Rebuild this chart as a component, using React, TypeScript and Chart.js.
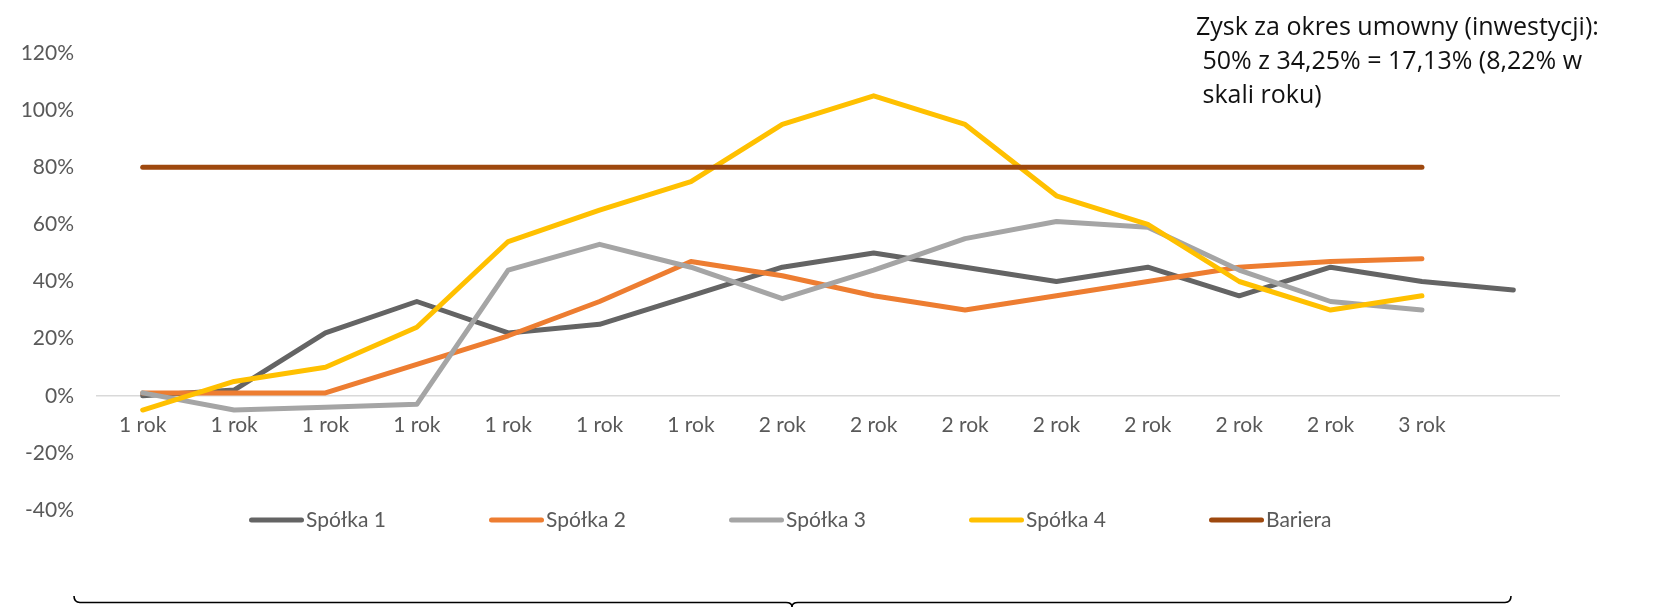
import React, { useEffect, useRef } from 'react';
import { Chart, registerables } from 'chart.js';

Chart.register(...registerables);

const categories = ['1 rok', '1 rok', '1 rok', '1 rok', '1 rok', '1 rok', '1 rok', '2 rok', '2 rok', '2 rok', '2 rok', '2 rok', '2 rok', '2 rok', '3 rok', ''];
const spolka1 = [0, 2, 22, 33, 22, 25, 35, 45, 50, 45, 40, 45, 35, 45, 40, 37];
const spolka2 = [1, 1, 1, 11, 21, 33, 47, 42, 35, 30, 35, 40, 45, 47, 48, null];
const spolka3 = [1, -5, -4, -3, 44, 53, 45, 34, 44, 55, 61, 59, 44, 33, 30, null];
const spolka4 = [-5, 5, 10, 24, 54, 65, 75, 95, 105, 95, 70, 60, 40, 30, 35, null];
const bariera = [80, 80, 80, 80, 80, 80, 80, 80, 80, 80, 80, 80, 80, 80, 80, null];

const seriesNames = ['Spółka 1', 'Spółka 2', 'Spółka 3', 'Spółka 4', 'Bariera'];
const seriesColors = ['#646464', '#ED7D31', '#A5A5A5', '#FFC000', '#9E480E'];
const seriesData = [spolka1, spolka2, spolka3, spolka4, bariera];

const yMin = -40;
const yMax = 120;
const yStep = 20;

const noteLines = [
  'Zysk za okres umowny (inwestycji):',
  ' 50% z 34,25% = 17,13% (8,22% w',
  ' skali roku)',
];

const FONT_FAMILY = 'Lato, "Open Sans", sans-serif';
const NOTE_FONT = '"Open Sans", Lato, sans-serif';
const TEXT_GRAY = '#595959';

const legendPlugin = {
  id: 'customLegend',
  afterDraw(chart: any) {
    const ctx = chart.ctx;
    const area = chart.chartArea;
    const y = area.bottom + 10;
    chart.data.datasets.forEach((ds: any, i: number) => {
      const x = area.left + 152 + i * 240;
      ctx.save();
      ctx.strokeStyle = ds.borderColor;
      ctx.lineWidth = 5;
      ctx.lineCap = 'round';
      ctx.beginPath();
      ctx.moveTo(x + 2.5, y);
      ctx.lineTo(x + 52.5, y);
      ctx.stroke();
      ctx.fillStyle = TEXT_GRAY;
      ctx.font = `21px ${FONT_FAMILY}`;
      ctx.textBaseline = 'middle';
      ctx.textAlign = 'left';
      ctx.fillText(ds.label, x + 57, y);
      ctx.restore();
    });
  },
};

export default function App() {
  const canvasRef = useRef<HTMLCanvasElement | null>(null);

  useEffect(() => {
    if (!canvasRef.current) return;
    const orders = [5, 4, 3, 2, 1];
    const chart = new Chart(canvasRef.current, {
      type: 'line',
      data: {
        labels: categories,
        datasets: seriesData.map((d, i) => ({
          label: seriesNames[i],
          data: d,
          borderColor: seriesColors[i],
          backgroundColor: seriesColors[i],
          borderWidth: 5,
          pointRadius: 0,
          pointHoverRadius: 0,
          borderCapStyle: 'round',
          borderJoinStyle: 'round',
          tension: 0,
          fill: false,
          order: orders[i],
        })),
      },
      options: {
        responsive: false,
        animation: false,
        devicePixelRatio: 1,
        events: [],
        layout: { padding: { left: 0, right: 93, top: 45, bottom: 97 } },
        plugins: {
          legend: { display: false },
          tooltip: { enabled: false },
        },
        scales: {
          x: {
            type: 'category',
            position: { y: 0 },
            offset: true,
            grid: { display: false, drawTicks: false },
            border: { display: true, color: '#D9D9D9', width: 1.5 },
            ticks: {
              color: TEXT_GRAY,
              font: { family: FONT_FAMILY, size: 21 },
              padding: 17,
              maxRotation: 0,
              autoSkip: false,
            },
          },
          y: {
            min: yMin,
            max: yMax,
            grid: { display: false, drawTicks: false },
            border: { display: false },
            ticks: {
              stepSize: yStep,
              color: TEXT_GRAY,
              font: { family: FONT_FAMILY, size: 21 },
              padding: 23,
              callback: (v: any) => `${v}%`,
            },
            afterFit: (s: any) => {
              s.width = 89;
            },
          },
        },
      },
      plugins: [legendPlugin],
    } as any);
    return () => chart.destroy();
  }, []);

  return (
    <div style={{ position: 'relative', width: 1644, height: 599 }}>
      <canvas ref={canvasRef} width={1644} height={599} style={{ display: 'block' }} />
      <div
        style={{
          position: 'absolute',
          left: 1188,
          top: 0,
          fontFamily: NOTE_FONT,
          fontSize: 25,
          lineHeight: '34px',
          color: '#111',
          whiteSpace: 'pre',
        }}
      >
        {noteLines.map((l, i) => (
          <div key={i}>{l}</div>
        ))}
      </div>
      <svg
        width={1644}
        height={20}
        style={{ position: 'absolute', left: 0, top: 584 }}
      >
        <path
          d="M66 4 Q66 10.5 72 10.5 L778 10.5 Q784 10.5 784 15 Q784 10.5 790 10.5 L1497 10.5 Q1503 10.5 1503 4"
          fill="none"
          stroke="#000"
          strokeWidth={1.6}
        />
      </svg>
    </div>
  );
}
